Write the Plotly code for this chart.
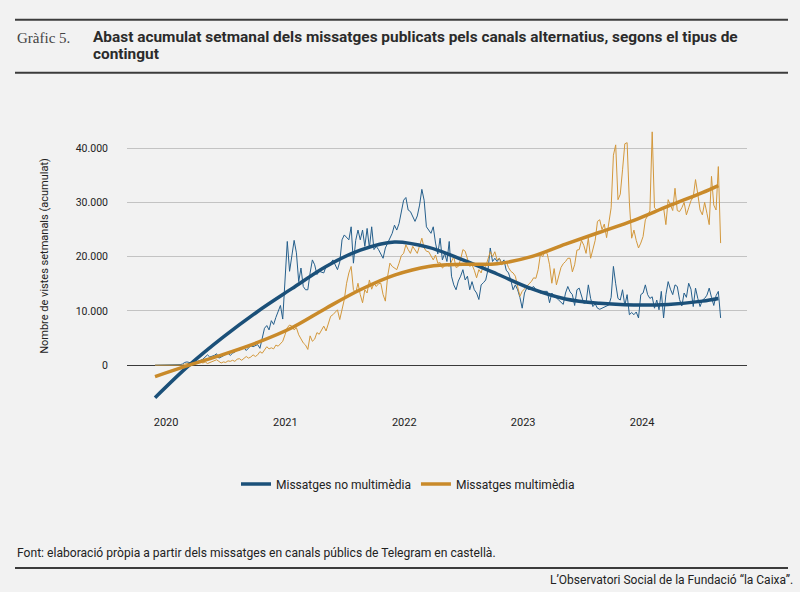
import pandas as pd
import plotly.graph_objects as go

# ---------------- DATA (weekly values, thousands of views) ----------------
start_date = "2019-11-28"

no_multimedia = [
    0, 0, 0, 0, 0, 0, 0, 0, 0, 0, 0, 0.1, 0.2,
    0.5, 0.6, 0.5, 0.4, 0.5, 0.6, 0.7, 0.9, 1.1, 1.5,
    1.9, 1.5, 1.6, 1.8, 2.1, 1.3, 1.5, 1.7, 2.0, 2.2,
    1.8, 2.2, 2.4, 3.0, 2.8, 3.0, 3.2, 2.7, 3.2, 3.6,
    3.4, 3.6, 3.8, 3.1, 5.0, 6.8, 7.3, 6.5, 8.2, 7.5,
    8.8, 9.8, 11.0, 8.5, 15, 22.8, 17.3, 20, 23.0, 20.7,
    15.4, 17.9, 14.5, 13.9, 13.9, 17, 19.4, 18.5, 16.7, 17.3,
    17.2, 17, 18.2, 18.5, 18.8, 19.4, 18.5, 17.6, 19, 23.1,
    24, 23.5, 23.1, 25.5, 18.8, 23, 24.9, 23.1, 24.9, 21.9,
    25.2, 21.6, 25.5, 21.3, 21.9, 21.3, 20.5, 19.7, 21.6, 22.5,
    23.5, 24.3, 25.8, 24.9, 26.1, 28, 30.4, 30.9, 28.6, 28.3,
    27.4, 26.5, 27.5, 29.5, 32.4, 30.4, 25.5, 24.9, 24.3, 25.5,
    22.5, 20.5, 23.4, 19.4, 20.6, 19.1, 22.8, 16.4, 14.8, 13.9,
    15.5, 16.4, 17.6, 15.7, 16.4, 13.9, 15.4, 13.9, 13.3, 12.1,
    14.8, 15.2, 15.7, 17.6, 21.6, 19.1, 19.7, 19.1, 19.7, 18.8,
    19.4, 17.5, 17, 15.7, 13.9, 14.8, 13.9, 12.5, 10.5, 13.3,
    14.2, 13.9, 14.2, 14.5, 13.9, 13.5, 13.3, 13.6, 13.6, 13.6,
    11.5, 13.3, 12.6, 12.4, 12, 11.5, 11.2, 13.3, 14.5, 13.5,
    13, 11.0, 13.9, 14.2, 13, 11.4, 11.5, 14.8, 12.3, 10.8,
    11.3, 10.5, 10.3, 10.5, 10.8, 11, 11.1, 12.5, 18.2, 15,
    12.3, 12, 13.9, 11, 13, 9.3, 9.7, 9.3, 9.8, 8.7,
    13, 13.3, 14.8, 13, 12.3, 12.6, 10.5, 12, 10.2, 13.6,
    8.7, 13, 15.4, 14, 13, 14.8, 14.5, 12.1, 10.9, 13.3,
    12.5, 15.1, 14, 10.8, 14.2, 12.3, 10.8, 12, 12.3, 12.9,
    14.2, 12.5, 11, 12.8, 13.6, 8.7,
]

multimedia = [
    0, 0, 0, 0, 0, 0, 0, 0, 0, 0, 0, 0, 0,
    0.2, 0.3, 0.3, 0.4, 0.5, 0.5, 0.6, 0.6, 0.4, 0.6,
    0.3, 0.5, 0.7, 0.8, 1.0, 0.7, 0.4, 0.6, 0.5, 0.8,
    0.7, 0.9, 0.7, 1.1, 1.2, 0.9, 1.3, 1.6, 1.3, 1.5,
    1.9, 1.6, 1.9, 2.5, 2.2, 2.8, 3.4, 3.0, 3.2, 3.0,
    3.7, 3.5, 4.0, 4.4, 5.6, 6.9, 7.4, 7.2, 6.5, 6.9,
    5.6, 4.7, 4.1, 3.7, 2.9, 5.4, 4.4, 4.8, 6.0, 5.7,
    6.5, 7.2, 6.3, 7.5, 9.0, 9.3, 9.8, 10.2, 8.4, 10.5,
    12.1, 15.1, 17, 18.2, 13.9, 13.3, 15.1, 13, 11.5, 13.9,
    13.3, 15.7, 14, 15.1, 14.5, 15, 15.1, 13, 11.8, 16.4,
    18.8, 18.2, 17.9, 17.6, 18.8, 20.2, 20.6, 22.2, 21.3, 20.6,
    21.9, 21.2, 20.6, 22, 23.4, 21.6, 21, 20.9, 20, 19.4,
    20.3, 18.8, 18.9, 17.9, 18.3, 18.5, 18.2, 19.1, 20, 18,
    18.2, 19.5, 21.3, 21, 19.4, 18.2, 18.5, 17.5, 16.1, 17.6,
    17, 18.5, 18.2, 19.4, 20.9, 20, 20.9, 19.4, 19.7, 18.5,
    18.8, 19.1, 18, 17.3, 17, 16.4, 14.5, 12.7, 13.6, 14,
    14.5, 15, 15.4, 16.1, 16, 17.6, 20.5, 20, 21, 20.5,
    18.5, 15.1, 17.8, 14.8, 16.5, 18, 18.7, 19.1, 19.7, 19.7,
    17.2, 18.5, 21.2, 21.3, 23, 22.1, 20.6, 23.4, 19.7, 21.5,
    23, 26.5, 26.8, 25, 26, 23.5, 26, 29, 38.7, 40.6,
    30.5, 31.5, 36, 40.8, 41, 30, 23.4, 24.9, 23, 21.6,
    22.5, 23.7, 26.8, 27.5, 28.5, 43, 29, 28.6, 28.7, 28.6,
    29, 25.9, 30.5, 29.5, 28.5, 32.6, 28.5, 28.3, 29, 30,
    27.7, 29, 30.3, 31, 34.2, 31.5, 28.6, 27.7, 30, 28,
    25.9, 34.8, 29.5, 28.6, 36.6, 22.5,
]

# smoothed trend lines, read at given week indices
trend_weeks = [0, 15, 30, 45, 60, 75, 90, 105, 120, 135, 150, 165, 180, 195, 210, 225, 240, 247]
trend_no_multimedia = [-6.0, 0.0, 5.2, 9.9, 14.1, 18.2, 21.2, 22.7, 21.7, 19.4, 16.8, 14.1,
                       12.2, 11.4, 11.1, 11.2, 11.8, 12.3]
trend_multimedia = [-2.1, 0.0, 2.0, 4.2, 6.9, 10.5, 13.9, 16.6, 18.2, 18.6, 18.7, 20.0,
                    22.3, 24.5, 26.7, 29.3, 31.8, 33.1]

series_names = ["Missatges no multimèdia", "Missatges multimèdia"]
y_ticks = [0, 10000, 20000, 30000, 40000]
x_ticks = ["2020-01-01", "2021-01-01", "2022-01-01", "2023-01-01", "2024-01-01"]

# ---------------- BUILD ----------------
BLUE = "#1b5079"
BLUE_THIN = "#255f8c"
ORANGE = "#c98a2a"
ORANGE_THIN = "#d3983c"
BG = "#f2f2f2"

start = pd.Timestamp(start_date)
d_blue = pd.date_range(start, periods=len(no_multimedia), freq="7D")
d_orange = pd.date_range(start, periods=len(multimedia), freq="7D")
d_trend = [start + pd.Timedelta(weeks=w) for w in trend_weeks]

fig = go.Figure()
fig.add_trace(go.Scatter(x=d_blue, y=[v * 1000 for v in no_multimedia], mode="lines",
                         line=dict(color=BLUE_THIN, width=1), showlegend=False, hoverinfo="skip"))
fig.add_trace(go.Scatter(x=d_orange, y=[v * 1000 for v in multimedia], mode="lines",
                         line=dict(color=ORANGE_THIN, width=1), showlegend=False, hoverinfo="skip"))
fig.add_trace(go.Scatter(x=d_trend, y=[v * 1000 for v in trend_no_multimedia], mode="lines",
                         line=dict(color=BLUE, width=3.5, shape="spline"), name=series_names[0]))
fig.add_trace(go.Scatter(x=d_trend, y=[v * 1000 for v in trend_multimedia], mode="lines",
                         line=dict(color=ORANGE, width=3.5, shape="spline"), name=series_names[1]))

W, H = 800, 592
L, R, T, B = 127, 747, 121.2, 414.1


def px(x):
    return (x - L) / (R - L)


def py(y):
    return (B - y) / (B - T)


SANS = "Roboto, Liberation Sans, sans-serif"

fig.update_layout(
    width=W, height=H,
    margin=dict(l=L, r=W - R, t=T, b=H - B, pad=0),
    paper_bgcolor=BG, plot_bgcolor=BG,
    separators=",.",
    font=dict(family=SANS, size=11, color="#222222"),
    showlegend=True,
    legend=dict(orientation="h", xref="container", yref="container",
                x=0.51, xanchor="center", y=1 - 484 / H, yanchor="middle",
                bgcolor="rgba(0,0,0,0)", font=dict(size=12, color="#222"),
                itemwidth=30, tracegroupgap=0),
    xaxis=dict(type="date", range=["2019-09-03", "2024-11-18"], tickvals=x_ticks,
               tickformat="%Y", showgrid=False, showline=False, zeroline=False,
               ticks="", tickfont=dict(size=11, color="#222"), fixedrange=True),
    yaxis=dict(range=[-9000, 45000], tickvals=y_ticks, tickformat=",d",
               showgrid=True, gridcolor="#c3c3c3", gridwidth=1,
               zeroline=True, zerolinecolor="#3a3a3a", zerolinewidth=1.3,
               showline=False, ticks="", ticklabelstandoff=18,
               tickfont=dict(size=10.5, color="#222"), fixedrange=True),
)

shapes = []
for yy, w in [(20, 2), (73, 2), (568, 2)]:
    shapes.append(dict(type="line", xref="paper", yref="paper",
                       x0=px(15), x1=px(788), y0=py(yy), y1=py(yy),
                       line=dict(color="#3c3c3c", width=w)))
fig.update_layout(shapes=shapes)

ann = [
    dict(text="Gràfic 5.", x=px(15), y=py(38), xanchor="left", yanchor="middle",
         font=dict(family="Liberation Serif, DejaVu Serif, serif", size=15, color="#444")),
    dict(text="<b>Abast acumulat setmanal dels missatges publicats pels canals alternatius, segons el tipus de</b>",
         x=px(91), y=py(37), xanchor="left", yanchor="middle",
         font=dict(family=SANS, size=15.4, color="#2b2b2b")),
    dict(text="<b>contingut</b>", x=px(91), y=py(54), xanchor="left", yanchor="middle",
         font=dict(family=SANS, size=15.4, color="#2b2b2b")),
    dict(text="Nombre de vistes setmanals (acumulat)", x=px(45), y=py(256), textangle=-90,
         xanchor="center", yanchor="middle", font=dict(family=SANS, size=11, color="#222")),
    dict(text="Font: elaboració pròpia a partir dels missatges en canals públics de Telegram en castellà.",
         x=px(15), y=py(553), xanchor="left", yanchor="middle",
         font=dict(family=SANS, size=12.1, color="#222")),
    dict(text="L’Observatori Social de la Fundació “la Caixa”.",
         x=px(795), y=py(580), xanchor="right", yanchor="middle",
         font=dict(family=SANS, size=12, color="#222")),
]
for a in ann:
    a.update(xref="paper", yref="paper", showarrow=False)
fig.update_layout(annotations=ann)

fig.write_html(
    "out.html",
    config={"displayModeBar": False},
    post_script="document.body.style.margin='0';document.body.style.background='#f2f2f2';",
)
